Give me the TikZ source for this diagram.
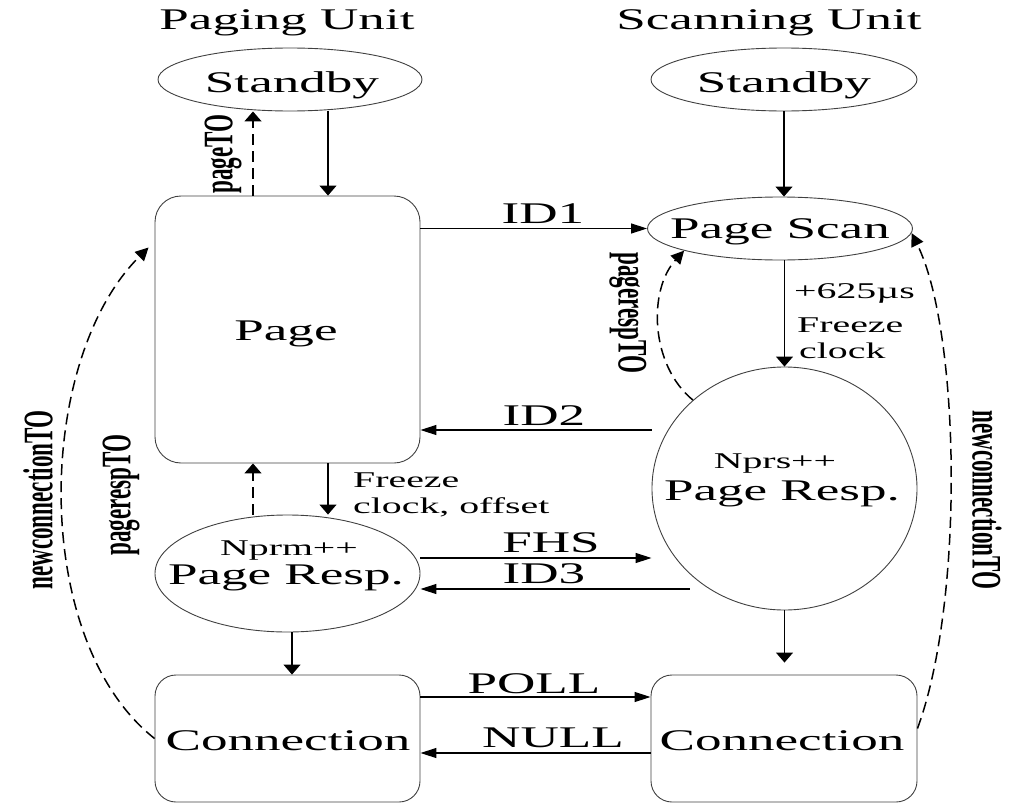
\documentclass[tikz,border=0pt]{standalone}
\usepackage{fontspec}
\setmainfont{Liberation Serif}[FakeStretch=1.77]
\newfontfamily\sidefont{Liberation Serif}[FakeStretch=0.55]
\usetikzlibrary{arrows.meta,calc,shapes.geometric}

\begin{document}
\begin{tikzpicture}[x=1pt,y=-1pt,
  state/.style={draw=black!75,line width=0.9pt,inner sep=0pt},
  oval/.style={state,ellipse},
  pagebox/.style={state,rectangle,rounded corners=26pt},
  connbox/.style={state,rectangle,rounded corners=21pt},
  txt/.style={font=\fontsize{30}{36}\selectfont,anchor=base,inner sep=0pt},
  small/.style={font=\fontsize{22.5}{27}\selectfont,anchor=base west,inner sep=0pt},
  smallc/.style={font=\fontsize{22.5}{27}\selectfont,anchor=base,inner sep=0pt},
  side/.style={font=\fontsize{42}{42}\sidefont\bfseries,inner sep=0pt},
  conn/.style={line width=1.2pt,draw=black},
  timeout/.style={line width=1.5pt,draw=black,dash pattern=on 11pt off 6pt},
  tipv/.style={-{Triangle[length=10pt,width=17pt]}},
  tiph/.style={-{Triangle[length=16pt,width=10pt]}},
  tipc/.style={-{Triangle[length=13pt,width=13pt]}}
]
\useasboundingbox (0,0) rectangle (1010,803);

% column and row guides
\coordinate (xa) at (328,0);
\coordinate (xb) at (253,0);
\coordinate (xc) at (292,0);
\coordinate (y2) at (0,430);
\coordinate (yF) at (0,558);
\coordinate (y3) at (0,589);
\coordinate (yP) at (0,697);
\coordinate (yN) at (0,753);

% unit titles
\node[txt] (tPU) at (287,30) {Paging Unit};
\node[txt] (tSU) at (769,30) {Scanning Unit};

% states
\node[oval,minimum width=264pt,minimum height=63pt] (sbL) at (290,79.5) {};
\node[oval,minimum width=266pt,minimum height=63pt] (sbR) at (784,79.5) {};
\node[pagebox,minimum width=265pt,minimum height=267pt] (page) at (287.5,329.5) {};
\node[oval,minimum width=265pt,minimum height=63pt] (psc) at (780,228.5) {};
\node[oval,minimum width=265pt,minimum height=243pt] (prR) at (784.5,488.5) {};
\node[oval,minimum width=265pt,minimum height=117pt] (prL) at (287.5,573.5) {};
\node[connbox,minimum width=265pt,minimum height=127pt] (cnL) at (287.5,738.5) {};
\node[connbox,minimum width=266pt,minimum height=127pt] (cnR) at (784,738.5) {};

% state names
\node[txt] (lsbL) at (292,92) {Standby};
\node[txt] (lsbR) at (784,92) {Standby};
\node[txt] (lpage) at (286,340) {Page};
\node[txt] (lpsc) at (780,238) {Page Scan};
\node[smallc] (lnprs) at (775,468) {Nprs++};
\node[txt] (lprR) at (782,500) {Page Resp.};
\node[smallc] (lnprm) at (289,555) {Nprm++};
\node[txt] (lprL) at (286,584) {Page Resp.};
\node[txt] (lcnL) at (288,750) {Connection};
\node[txt] (lcnR) at (782,750) {Connection};

% vertical transitions
\draw[conn,tipv] (sbL.south -| xa) -- (page.north -| xa);
\draw[timeout,tipv] (page.north -| xb) -- (sbL.south -| xb);
\draw[conn,tipv] (sbR.south) -- (psc.north -| sbR.south);
\draw[conn,tipv] (psc.south -| prR.north) -- (prR.north);
\draw[conn,tipv] (page.south -| xa) -- (prL.north -| xa);
\draw[timeout,tipv] (prL.north -| xb) -- (page.south -| xb);
\draw[conn,tipv] (prL.south -| xc) -- (cnL.north -| xc);
\draw[conn,tipv] (prR.south) -- ([yshift=12pt]cnR.north -| prR.south);

% messages between the units
\draw[conn,tiph] (page.east |- psc.west) -- (psc.west);
\draw[conn,tiph] (prR.west |- y2) -- (page.east |- y2);
\draw[conn,tiph] (prL.east |- yF) -- (prR.west |- yF);
\draw[conn,tiph] ($(prR.west |- y3)+(38,0)$) -- (prL.east |- y3);
\draw[conn,tiph] (cnL.east |- yP) -- (cnR.west |- yP);
\draw[conn,tiph] (cnR.west |- yN) -- (cnL.east |- yN);

% timeouts
\draw[timeout,tipc] (prR.136) .. controls (650,365) and (648,290) .. (psc.193);
\draw[timeout,tipc] (cnL.west) .. controls (30,640) and (35,360) .. ($(page.west)+(-6,-82)$);
\draw[timeout,tipc] ($(cnR.east)+(0,-10)$) .. controls (965,600) and (960,330) .. (psc.-2);

% message labels
\node[txt] (mID1) at (543,223) {ID1};
\node[txt] (mID2) at (544,425) {ID2};
\node[txt] (mFHS) at (551,552) {FHS};
\node[txt] (mID3) at (544,583) {ID3};
\node[txt] (mPOLL) at (534,693) {POLL};
\node[txt] (mNULL) at (553,747) {NULL};

% transition notes
\node[small] (n1) at (794,298) {+625µs};
\node[small] (n2) at (797,332) {Freeze};
\node[small] (n3) at (799,358) {clock};
\node[small] (n4) at (353,487) {Freeze};
\node[small] (n5) at (353,513) {clock, offset};

% timeout labels
\node[side,rotate=90] (to1) at (223,154) {pageTO};
\node[side,rotate=90] (to2) at (121,495) {pagerespTO};
\node[side,rotate=90] (to3) at (38,500) {newconnectionTO};
\node[side,rotate=-90] (to4) at (628,313) {pagerespTO};
\node[side,rotate=-90] (to5) at (987,500) {newconnectionTO};
\end{tikzpicture}
\end{document}
